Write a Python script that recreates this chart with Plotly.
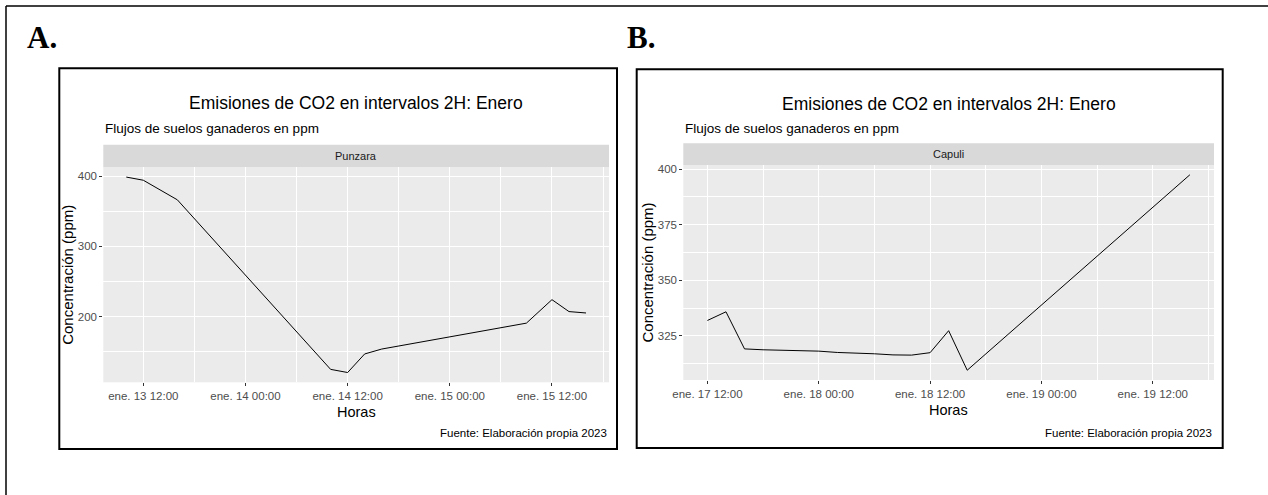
import plotly.graph_objects as go
import pandas as pd

# ---------------- data ----------------
times_a = ["2023-01-13 10:00", "2023-01-13 12:00", "2023-01-13 16:00", "2023-01-14 10:00",
           "2023-01-14 12:00", "2023-01-14 14:00", "2023-01-14 16:00", "2023-01-15 09:00",
           "2023-01-15 12:00", "2023-01-15 14:00", "2023-01-15 16:00"]
co2_a = [399.0, 394.5, 366.5, 124.5, 120.0, 146.5, 153.5, 190.5, 224.0, 207.0, 205.0]

times_b = ["2023-01-17 12:00", "2023-01-17 14:00", "2023-01-17 16:00", "2023-01-17 18:00",
           "2023-01-18 00:00", "2023-01-18 02:00", "2023-01-18 06:00", "2023-01-18 08:00",
           "2023-01-18 10:00", "2023-01-18 12:00", "2023-01-18 14:00", "2023-01-18 16:00",
           "2023-01-19 16:00"]
co2_b = [331.9, 335.8, 319.1, 318.7, 318.1, 317.5, 316.9, 316.4, 316.3, 317.4, 327.3, 309.5, 397.5]

tickvals_a = ["2023-01-13 12:00", "2023-01-14 00:00", "2023-01-14 12:00", "2023-01-15 00:00", "2023-01-15 12:00"]
ticktext_a = ["ene. 13 12:00", "ene. 14 00:00", "ene. 14 12:00", "ene. 15 00:00", "ene. 15 12:00"]
tickvals_b = ["2023-01-17 12:00", "2023-01-18 00:00", "2023-01-18 12:00", "2023-01-19 00:00", "2023-01-19 12:00"]
ticktext_b = ["ene. 17 12:00", "ene. 18 00:00", "ene. 18 12:00", "ene. 19 00:00", "ene. 19 12:00"]

site_a = "Punzara"
site_b = "Capuli"
title = "Emisiones de CO2 en intervalos 2H: Enero"
subtitle = "Flujos de suelos ganaderos en ppm"
caption = "Fuente: Elaboración propia 2023"
xlab = "Horas"
ylab = "Concentración (ppm)"

# ---------------- layout helpers ----------------
W, H = 1268, 495
def px(x):
    return x / W
def py(y):
    return 1 - y / H

def expand_time(ts):
    t = pd.to_datetime(ts)
    lo, hi = t.min(), t.max()
    d = (hi - lo) * 0.05
    return [str(lo - d), str(hi + d)]

def expand_val(v):
    lo, hi = min(v), max(v)
    d = (hi - lo) * 0.05
    return [lo - d, hi + d]

FONT = "Liberation Sans, Arial, sans-serif"
panels = {
    "a": dict(x0=103.3, x1=609.0, y0=167.3, y1=382.3, strip0=144.8, box=(59.3, 68.3, 617.0, 449.0)),
    "b": dict(x0=683.3, x1=1214.0, y0=165.0, y1=380.0, strip0=143.3, box=(636.7, 69.3, 1222.7, 448.0)),
}

fig = go.Figure()
fig.add_trace(go.Scatter(x=pd.to_datetime(times_a), y=co2_a, mode="lines",
                         line=dict(color="black", width=1), xaxis="x", yaxis="y"))
fig.add_trace(go.Scatter(x=pd.to_datetime(times_b), y=co2_b, mode="lines",
                         line=dict(color="black", width=1), xaxis="x2", yaxis="y2"))

tickfont = dict(family=FONT, size=11.5, color="#4D4D4D")
def xaxis(p, tv, tt, rng):
    return dict(domain=[px(p["x0"]), px(p["x1"])], range=rng, type="date",
                tickmode="array", tickvals=tv, ticktext=tt, automargin=False,
                showgrid=True, gridcolor="white", gridwidth=1.4,
                minor=dict(showgrid=True, gridcolor="white", gridwidth=0.6,
                           tick0="2023-01-01 06:00", dtick=6 * 3600 * 1000),
                ticks="outside", ticklen=3, tickcolor="#333333", tickwidth=1,
                tickfont=tickfont, zeroline=False, showline=False, fixedrange=True)

def yaxis(p, anchor, dtick, rng):
    return dict(domain=[py(p["y1"]), py(p["y0"])], range=rng, anchor=anchor,
                tickmode="linear", tick0=0, dtick=dtick, automargin=False,
                showgrid=True, gridcolor="white", gridwidth=1.4,
                minor=dict(showgrid=True, gridcolor="white", gridwidth=0.6, dtick=dtick / 2, tick0=0),
                ticks="outside", ticklen=3, tickcolor="#333333", tickwidth=1,
                tickfont=tickfont, zeroline=False, showline=False, fixedrange=True)

pa, pb = panels["a"], panels["b"]
fig.update_layout(
    width=W, height=H, margin=dict(l=0, r=0, t=0, b=0, autoexpand=False),
    paper_bgcolor="white", plot_bgcolor="#EBEBEB", showlegend=False,
    xaxis=dict(xaxis(pa, tickvals_a, ticktext_a, expand_time(times_a)), anchor="y"),
    yaxis=yaxis(pa, "x", 100, expand_val(co2_a)),
    xaxis2=dict(xaxis(pb, tickvals_b, ticktext_b, expand_time(times_b)), anchor="y2"),
    yaxis2=yaxis(pb, "x2", 25, expand_val(co2_b)),
)

shapes = []
annotations = []
# outer frame (top and left lines)
shapes.append(dict(type="line", xref="paper", yref="paper", x0=px(6), x1=1, y0=py(6), y1=py(6),
                   line=dict(color="black", width=1.5)))
shapes.append(dict(type="line", xref="paper", yref="paper", x0=px(6), x1=px(6), y0=py(6), y1=0,
                   line=dict(color="black", width=1.5)))

for key, label, site, ylab_x in (("a", "A.", site_a, 68), ("b", "B.", site_b, 647)):
    p = panels[key]
    bx0, by0, bx1, by1 = p["box"]
    shapes.append(dict(type="rect", xref="paper", yref="paper",
                       x0=px(bx0), x1=px(bx1), y0=py(by1), y1=py(by0),
                       line=dict(color="black", width=2), fillcolor="rgba(0,0,0,0)"))
    # strip
    shapes.append(dict(type="rect", xref="paper", yref="paper",
                       x0=px(p["x0"]), x1=px(p["x1"]), y0=py(p["y0"]), y1=py(p["strip0"]),
                       line=dict(width=0), fillcolor="#D9D9D9", layer="below"))
    cx = (p["x0"] + p["x1"]) / 2
    annotations += [
        dict(text=site, x=px(cx), y=py((p["y0"] + p["strip0"]) / 2), xanchor="center", yanchor="middle",
             font=dict(family=FONT, size=11, color="#1A1A1A")),
        dict(text=title, x=px(cx), y=py(104 if key == "b" else 103), xanchor="center", yanchor="middle",
             font=dict(family=FONT, size=17.5, color="black")),
        dict(text=subtitle, x=px(p["x0"]), y=py(128), xanchor="left", yanchor="middle",
             font=dict(family=FONT, size=13.5, color="black")),
        dict(text=caption, x=px(p["x1"]), y=py(433), xanchor="right", yanchor="middle",
             font=dict(family=FONT, size=11.5, color="black")),
        dict(text=xlab, x=px(cx), y=py(p["y1"] + 30), xanchor="center", yanchor="middle",
             font=dict(family=FONT, size=14.5, color="black")),
        dict(text=ylab, x=px(ylab_x), y=py((p["y0"] + p["y1"]) / 2), xanchor="center", yanchor="middle",
             textangle=-90, font=dict(family=FONT, size=15, color="black")),
    ]

annotations += [
    dict(text="<b>A.</b>", x=px(42), y=py(37), xanchor="center", yanchor="middle",
         font=dict(family="Liberation Serif, Times New Roman, serif", size=31, color="black")),
    dict(text="<b>B.</b>", x=px(640.5), y=py(37), xanchor="center", yanchor="middle",
         font=dict(family="Liberation Serif, Times New Roman, serif", size=31, color="black")),
]
for a in annotations:
    a.update(xref="paper", yref="paper", showarrow=False)

fig.update_layout(shapes=shapes, annotations=annotations)
fig.write_html("out.html")
